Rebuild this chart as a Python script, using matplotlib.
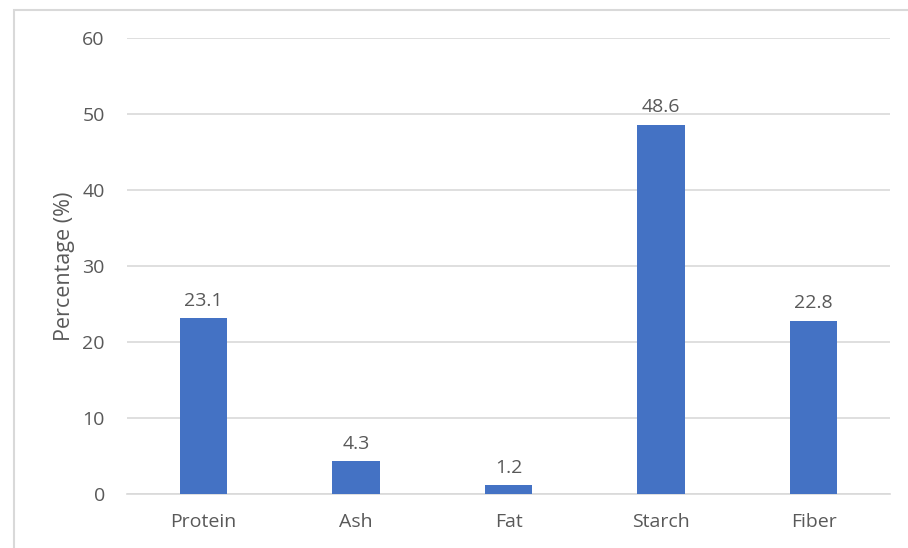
import matplotlib.pyplot as plt
from matplotlib.patches import Rectangle

categories = ['Protein', 'Ash', 'Fat', 'Starch', 'Fiber']
values = [23.1, 4.3, 1.2, 48.6, 22.8]
yticks = [0, 10, 20, 30, 40, 50, 60]

plt.rcParams['font.family'] = ['Open Sans', 'DejaVu Sans']
text_color = '#595959'

fig = plt.figure(figsize=(9.08, 5.48), dpi=100)
ax = fig.add_axes([127/908, 1 - 494/548, (890-127)/908, (494-38)/548])

x = range(len(categories))
ax.bar(x, values, width=0.31, color='#4472C4', zorder=3)
for xi, v in zip(x, values):
    ax.annotate(f'{v:.1f}', (xi, v), xytext=(0, 6), textcoords='offset points',
                ha='center', va='bottom', fontsize=14, color=text_color)

ax.set_xlim(-0.5, len(categories) - 0.5)
ax.set_ylim(0, 60)
ax.set_yticks(yticks)
ax.set_xticks(list(x))
ax.set_xticklabels(categories)
ax.yaxis.grid(True, color='#D9D9D9', linewidth=1.2, zorder=0)
for s in ['top', 'right', 'left']:
    ax.spines[s].set_visible(False)
ax.spines['bottom'].set_color('#D9D9D9')
ax.spines['bottom'].set_linewidth(1.2)
ax.tick_params(axis='both', length=0, labelsize=14, colors=text_color)
ax.tick_params(axis='y', pad=16)
ax.tick_params(axis='x', pad=14)
ax.set_ylabel('Percentage (%)', fontsize=15.5, color=text_color, labelpad=5)

# chart-area border (left and top edges visible)
fig.patches.append(Rectangle((14/908, -0.1), 1.0, 1 - 10/548 + 0.1,
                             transform=fig.transFigure, fill=False,
                             edgecolor='#D9D9D9', linewidth=1.5))

fig.savefig('out.png', dpi=100)
